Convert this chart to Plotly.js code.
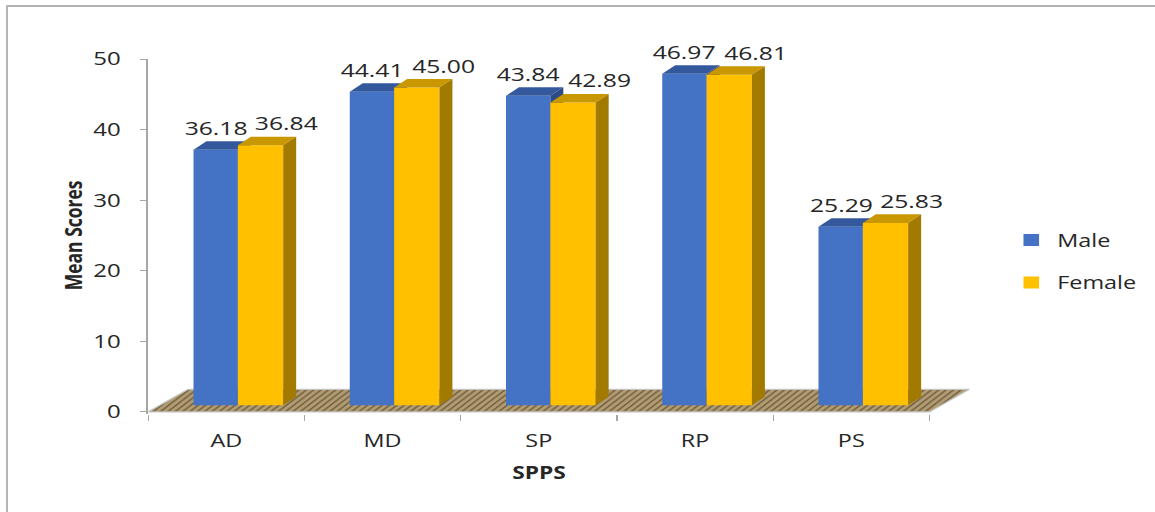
<!DOCTYPE html>
<html>
<head>
<meta charset="utf-8">
<script src="https://cdn.plot.ly/plotly-3.0.1.min.js"></script>
<style>
  html, body { margin: 0; padding: 0; background: #ffffff; overflow: hidden; width: 1155px; height: 512px; }
  #chart { position: absolute; left: 0; top: 0; width: 889px; height: 512px; transform: scaleX(1.3); transform-origin: 0 0; }
  #frame { position: absolute; left: 6px; top: 5px; width: 1300px; height: 700px;
           border-left: 2px solid #b4b4b4; border-top: 2px solid #b4b4b4; pointer-events: none; }
</style>
</head>
<body>
<div id="chart"></div>
<div id="frame"></div>
<script>
// Mean scores by SPPS dimension and gender
const categories = ['AD', 'MD', 'SP', 'RP', 'PS'];
const male = [36.18, 44.41, 43.84, 46.97, 25.29];
const female = [36.84, 45.00, 42.89, 46.81, 25.83];
const yTicks = [0, 10, 20, 30, 40, 50];

// Pseudo-3D geometry (category units horizontally, value units vertically)
const depthX = 0.083, depthY = 1.21;      // bar depth
const floorX = 0.255, floorY = 3.2;       // floor depth
const maleOff = -0.21, maleW = 0.284;
const femOff = 0.074, femW = 0.29;

const FONT = 'Open Sans, Liberation Sans, sans-serif';
const TXT = '#262626';
const AXC = '#a6a6a6';

const idx = categories.map((_, i) => i);
const traces = [];

// Floor slab under the bars
traces.push({
  type: 'scatter', mode: 'lines', xaxis: 'x', yaxis: 'y',
  x: [-0.5, 4.5, 4.5 + floorX, -0.5 + floorX, -0.5],
  y: [0, 0, floorY, floorY, 0],
  fill: 'toself', fillcolor: '#ad9870',
  fillpattern: { shape: '/', bgcolor: '#b19c74', fgcolor: '#6f5b3b', size: 4, solidity: 0.3 },
  line: { color: '#c4c4c4', width: 1.2 },
  showlegend: false, hoverinfo: 'skip'
});

function faces(values, off, w, topColor, sideColor, yaxis) {
  values.forEach((v, i) => {
    const x0 = i + off, x1 = x0 + w;
    traces.push({
      type: 'scatter', mode: 'lines', xaxis: 'x', yaxis: yaxis,
      x: [x0, x1, x1 + depthX, x0 + depthX, x0],
      y: [v, v, v + depthY, v + depthY, v],
      fill: 'toself', fillcolor: topColor, line: { width: 0, color: topColor },
      showlegend: false, hoverinfo: 'skip'
    });
    traces.push({
      type: 'scatter', mode: 'lines', xaxis: 'x', yaxis: yaxis,
      x: [x1, x1 + depthX, x1 + depthX, x1, x1],
      y: [0, depthY, v + depthY, v, 0],
      fill: 'toself', fillcolor: sideColor, line: { width: 0, color: sideColor },
      showlegend: false, hoverinfo: 'skip'
    });
  });
}

// Male columns (drawn first, behind)
traces.push({
  type: 'bar', name: 'Male', legendgroup: 'male', xaxis: 'x', yaxis: 'y2',
  x: idx, y: male, offset: maleOff, width: maleW,
  marker: { color: '#4472C4', line: { width: 0 } }, hoverinfo: 'skip'
});
faces(male, maleOff, maleW, '#34589c', '#2c4b84', 'y2');

// Female columns (drawn on top)
traces.push({
  type: 'bar', name: 'Female', legendgroup: 'female', xaxis: 'x', yaxis: 'y3',
  x: idx, y: female, offset: femOff, width: femW,
  marker: { color: '#FFC000', line: { width: 0 } }, hoverinfo: 'skip'
});
faces(female, femOff, femW, '#c99700', '#a27a00', 'y3');

// Value labels
const annotations = [];
male.forEach((v, i) => annotations.push({
  xref: 'x', yref: 'y2', x: i + maleOff + maleW / 2, y: v, yshift: 22,
  text: v.toFixed(2), showarrow: false, yanchor: 'middle', xanchor: 'center',
  font: { family: FONT, size: 19, color: TXT }
}));
female.forEach((v, i) => annotations.push({
  xref: 'x', yref: 'y3', x: i + femOff + femW / 2, y: v, yshift: 22, xshift: 20,
  text: v.toFixed(2), showarrow: false, yanchor: 'middle', xanchor: 'center',
  font: { family: FONT, size: 19, color: TXT }
}));

// Axis titles
annotations.push({
  xref: 'x', yref: 'paper', x: 2, y: -0.164, text: 'SPPS', showarrow: false,
  xanchor: 'center', yanchor: 'middle',
  font: { family: FONT, size: 17.5, color: TXT, weight: 700 }
});
annotations.push({
  xref: 'paper', yref: 'paper', x: -0.0907, y: 0.504, text: 'Mean Scores', showarrow: false,
  textangle: -90, xanchor: 'center', yanchor: 'middle',
  font: { family: FONT, size: 17.5, color: TXT, weight: 700 }
});

const hiddenY = { overlaying: 'y', range: [-1.25, 49.05], visible: false, fixedrange: true };

const layout = {
  width: 889, height: 512,
  margin: { l: 113.85, r: 137.55, t: 59, b: 98.2, pad: 0, autoexpand: false },
  paper_bgcolor: '#ffffff', plot_bgcolor: 'rgba(0,0,0,0)',
  font: { family: FONT, color: TXT },
  xaxis: {
    type: 'linear', range: [-0.5, 4.8], showgrid: false, zeroline: false, showline: false,
    tickmode: 'array', tickvals: idx, ticktext: categories, ticks: '',
    tickfont: { family: FONT, size: 18, color: TXT }, ticklabelstandoff: 14,
    minor: { tickmode: 'array', tickvals: [-0.5, 0.5, 1.5, 2.5, 3.5, 4.5],
             ticks: 'outside', ticklen: 6, tickwidth: 1, tickcolor: AXC, showgrid: false },
    fixedrange: true
  },
  yaxis: {
    range: [-0.3, 50], tickmode: 'array', tickvals: yTicks, ticktext: yTicks.map(String),
    showgrid: false, zeroline: false, showline: true, linecolor: AXC, linewidth: 1.5,
    ticks: 'outside', ticklen: 5, tickwidth: 1, tickcolor: AXC,
    tickfont: { family: FONT, size: 18.5, color: TXT }, ticklabelstandoff: 11,
    fixedrange: true
  },
  yaxis2: hiddenY,
  yaxis3: Object.assign({}, hiddenY),
  showlegend: true,
  legend: {
    x: 1.035, xanchor: 'left', y: 0.43, yanchor: 'middle',
    traceorder: 'grouped', tracegroupgap: 16,
    font: { family: FONT, size: 18, color: TXT },
    bgcolor: 'rgba(0,0,0,0)'
  },
  annotations: annotations,
  hovermode: false
};

Plotly.newPlot('chart', traces, layout, { staticPlot: true, displayModeBar: false });
</script>
</body>
</html>
